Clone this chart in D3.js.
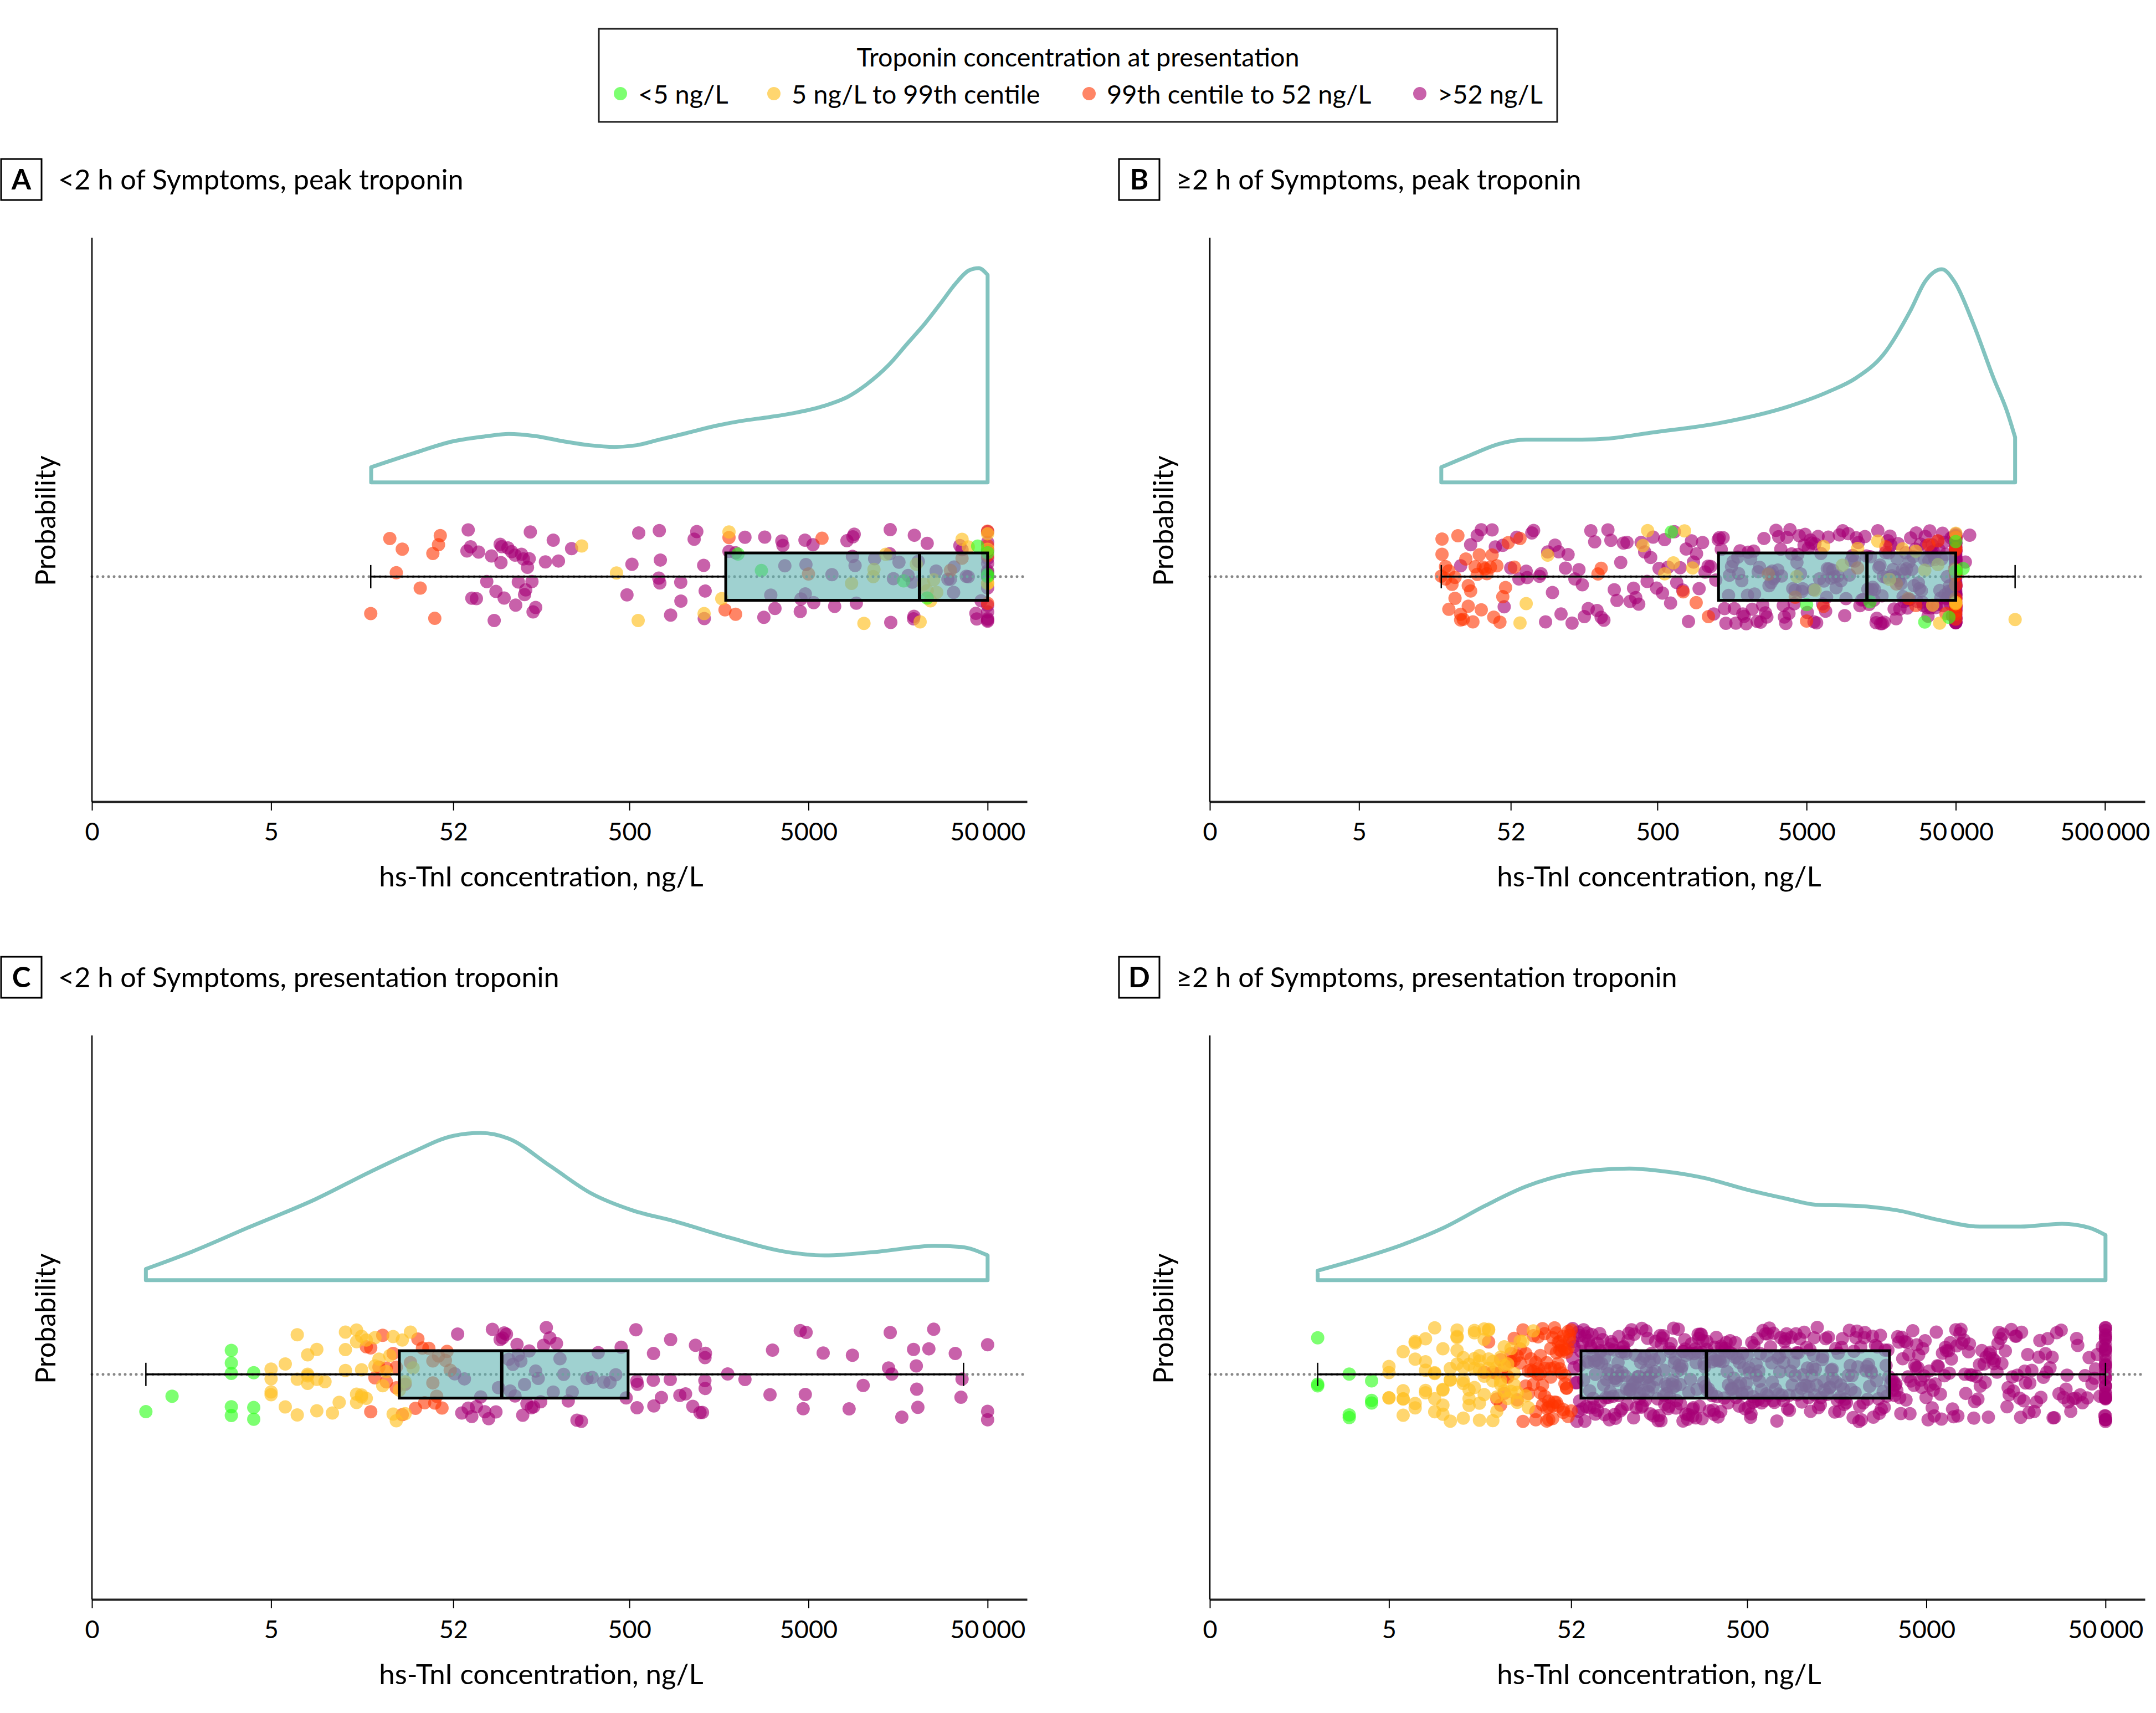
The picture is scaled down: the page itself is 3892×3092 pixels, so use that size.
<!DOCTYPE html>
<html><head><meta charset="utf-8">
<script src="https://cdn.jsdelivr.net/npm/d3@7"></script>
<style>body{margin:0;background:#fff}svg text{font-family:Lato,"Open Sans",sans-serif;fill:#000}</style>
</head><body><svg id="c" width="3892" height="3092"></svg>
<script>
// ---------- categories / legend ----------
const categories=['<5 ng/L','5 ng/L to 99th centile','99th centile to 52 ng/L','>52 ng/L'];
const catColors=['#2dff1a','#ffc125','#ff3300','#a60076'];
const legendTitle='Troponin concentration at presentation';

// ---------- axis ticks ----------
const tickVals5=[0.5,5,52,500,5000,50000];
const tickText5=['0','5','52','500','5000','50\u2009000'];
const tickVals6=[0.5,5,52,500,5000,50000,500000];
const tickText6=['0','5','52','500','5000','50\u2009000','500\u2009000'];

// ---------- box stats [min, q1, median, q3, max] (ng/L) ----------
const boxA=[18,1726,20843,50000,50000];
const boxB=[17.8,1285,12700,50000,125000];
const boxC=[1.0,26,97,492,36700];
const boxD=[2.0,59,296,3111,50000];

// ---------- density curves [ng/L, probability] ----------
const densA=[[18.1,0.027],[30.7,0.051],[52,0.073],[80,0.082],[106,0.086],[150,0.082],[214,0.073],[300,0.066],[412,0.063],[550,0.066],[739,0.076],[1000,0.086],[1500,0.100],[2100,0.109],[3040,0.116],[4300,0.124],[6150,0.136],[8300,0.152],[10470,0.173],[14000,0.208],[17800,0.246],[22500,0.283],[27700,0.320],[33000,0.352],[39400,0.376],[44600,0.380],[50000,0.368]];
const densB=[[17.8,0.027],[28.2,0.049],[43,0.068],[66,0.076],[101,0.076],[155,0.076],[237,0.078],[446,0.088],[1290,0.105],[3720,0.134],[7030,0.161],[10700,0.185],[16400,0.227],[25100,0.307],[31100,0.356],[40400,0.378],[49000,0.356],[65200,0.283],[89600,0.185],[111000,0.124],[125000,0.080]];
const densC=[[1.0,0.020],[1.82,0.051],[3.7,0.093],[8.9,0.144],[18.1,0.193],[30.7,0.227],[52,0.256],[74,0.261],[106,0.251],[180,0.203],[306,0.154],[519,0.124],[882,0.105],[1790,0.076],[3630,0.051],[6150,0.044],[12500,0.051],[25300,0.061],[35600,0.059],[50000,0.044]];
const densD=[[2.0,0.017],[3.5,0.039],[5.95,0.063],[10.1,0.093],[17.2,0.132],[29,0.166],[49.5,0.188],[70.5,0.195],[110,0.198],[171,0.193],[291,0.181],[492,0.161],[841,0.144],[1200,0.134],[2020,0.132],[3440,0.124],[5830,0.107],[9920,0.095],[16800,0.095],[28600,0.100],[40600,0.093],[50000,0.080]];

// ---------- individual patients (ng/L), by presentation category ----------
// counts of patients at the assay cap of 50000 ng/L: [green, yellow, red, purple]
const capA=[3,4,4,16], capB=[2,4,14,90], capC=[0,0,0,3], capD=[0,0,0,35];

const aGreen=[2020,2730,17000,23000,44000];
const aYellow=[271,424,560,1307,1640,1800,8700,10200,11500,11600,13500,20000,21000,22000,23000,24000,25000,26000,36000,39000];
const aRed=[18,23,25,27,34,40,41,43,44,1710,1800,1960,5000,5950,31000,36000];
const aPurple=[62,63,65,66,70,72,80,85,88,90,95,96,97,100,105,110,115,116,120,125,128,130,132,135,138,140,143,145,150,170,188,201,238,485,517,564,730,735,740,745,850,968,970,1150,1190,1300,1310,1325,1800,1960,2210,2818,2850,3080,3250,3550,3600,3690,4500,4540,4780,4800,4840,5300,5350,6760,7000,8200,8800,8850,9000,9100,9250,11700,14200,14300,14400,14900,16000,18000,19000,19300,19400,19500,20500,23000,25800,30000,31000,32300,32500,35000,36000,38000,39000,43000,43500,46000];

const bGreen=[620,5000,13300,31000,45000,56000];
const bYellow=[60,66,92,400,430,560,640,760,860,4300,5700,6500,8700,11000,15000,18000,22000,27000,31000,35000,38000,39000,125000];
const bRed=[17.8,18,18,19,19,20,20,21,22,22,23,24,24,25,26,27,27,28,29,30,31,32,33,34,35,36,38,39,40,42,44,46,48,50,55,60,200,210,745,910,1100,2770,4200,5000,6500,11000,17000,20000,24000,27000,33000,38000,43000,49000];
const bPurple=[24,28,31,33,39,41,46,47,52,57,59,66,67,72,74,81,83,89,92,99,103,109,113,121,126,134,140,149,157,162,172,179,190,197,210,219,233,244,257,268,284,296,313,328,346,358,375,389,411,427,451,468,494,513,541,559,590,613,650,674,710,739,780,808,847,873,915,952,1004,1043,1094,1138,1193,1231,1279,
1300,1340,1380,1410,1440,1500,1520,1570,1610,1640,1680,1730,1750,1790,1840,1870,1910,1970,2010,2030,2110,2160,2210,2240,2330,2370,2420,2460,2540,2590,2650,2710,2800,2840,2890,2940,3010,3060,3120,3210,3250,3360,3400,3490,3550,3630,3690,3810,3870,3970,4040,4130,4190,4310,4370,4460,4550,4660,4710,4810,4890,5060,5140,5310,5410,5560,5610,5690,5840,5970,6110,6240,6410,6540,6710,6810,6890,7010,7090,7310,7490,7710,7890,8110,8290,8510,8740,9010,9190,9510,9690,9960,10190,10510,10790,11110,11390,11710,11990,12310,12590,
12880,13120,13390,13620,13880,14120,14290,14620,14790,15020,15280,15520,15680,16020,16090,16320,16580,16920,17180,17520,17780,18120,18380,18720,18980,19320,19580,19920,20180,20520,20780,21120,21480,21920,22180,22520,22780,23120,23380,23720,23980,24320,24580,24920,25380,25920,26280,26820,27180,27620,28080,28520,28980,29420,29880,30320,30780,31220,31680,32120,32580,33020,33480,33920,34380,34820,35280,35820,36280,36820,37280,37820,38580,39120,39680,40220,40780,41320,41780,42320,42880,43420,43880,44420,44880,45420,45980,46520,46980,47520,47980,48520,58000,62000];

const cGreen=[1.0,1.4,3,3,3,3,3,4,4,4];
const cYellow=[5,5,5,5,6,6,7,7,7,8,8,8,8,9,9,9,10,11,12,13,13,13,15,15,15,15,16,16,16,16,17,17,19,19,20,21,22,23,24,24,25,26,27,28,28,30,31];
const cRed=[17,18,18,19,20,21,22,22,24,25,25,27,28,30,32,33,35,36,38,40,40,41,42,43,45,47,48,50];
const cPurple=[53,55,58,60,63,66,70,74,78,82,86,90,93,95,98,100,103,106,108,112,115,118,120,124,127,130,134,138,142,146,150,155,160,166,172,180,188,196,205,215,228,240,255,270,290,310,335,360,390,420,450,480,544,550,552,555,680,682,685,755,846,850,957,1030,1130,1170,1240,1280,1320,1322,1325,1330,1770,2210,3050,3150,4500,4670,4800,4850,6040,8430,8800,10100,14000,14300,14600,16600,19300,20000,20100,20400,23500,25000,33000,35500,36000];

const dGreen=[2,2,2,3,3,3,4,4,4];
const dYellow=[5,5,5,5,6,6,6,6,6,7,7,7,7,7,8,8,8,8,8,9,9,9,9,9,10,10,10,10,10,11,11,11,11,12,12,12,12,12,13,13,13,13,13,14,14,14,14,15,15,15,15,15,16,16,16,16,16,17,17,17,17,18,18,18,18,19,19,19,20,20,20,21,21,21,22,22,22,23,23,24,24,25,25,26,26,27,28,29,30,32];
const dRed=[17,18,19,20,20,21,21,22,22,23,23,24,24,25,25,26,26,27,27,28,28,29,29,30,30,31,31,32,32,32,33,33,33,34,34,34,35,35,35,36,36,36,37,37,37,38,38,38,39,39,39,40,40,40,41,41,41,42,42,42,43,43,43,44,44,44,45,45,45,46,46,46,47,47,47,48,48,48,49,49,49,50,50,50,51,51,52,52];
const dPurple=[53,53,54,54,55,56,56,57,57,58,58,59,60,60,61,61,62,62,63,64,64,65,65,66,66,67,67,68,69,69,70,70,71,71,53,58,
72,73,73,74,75,76,76,77,78,79,80,80,81,82,83,84,85,85,86,87,88,89,90,91,91,92,93,94,95,96,96,97,98,99,100,100,101,76,84,92,
102,103,105,106,107,108,110,111,112,114,115,116,117,119,120,121,122,124,125,126,128,129,130,131,133,134,135,137,138,139,140,141,142,143,104,113,118,127,132,136,109,
144,146,147,149,151,153,154,156,158,159,161,163,165,166,168,170,172,173,175,177,179,181,183,185,187,188,190,192,194,196,198,200,202,204,150,162,171,184,193,199,
206,209,211,214,216,219,221,224,227,229,232,235,238,241,244,247,250,253,256,259,262,265,268,271,274,277,280,283,286,289,212,225,236,248,258,266,279,287,218,
292,296,299,303,307,311,315,319,323,327,331,336,340,344,349,353,358,362,367,372,376,381,386,391,396,401,406,411,298,318,338,356,374,393,409,329,
415,421,427,433,440,446,452,459,466,472,479,486,493,500,507,515,522,530,537,545,553,561,569,577,585,430,470,510,540,560,450,498,525,580,
592,602,612,622,632,643,653,664,675,686,697,709,720,732,744,757,769,782,795,808,821,830,600,650,700,750,800,640,690,760,815,
840,857,874,891,909,927,945,964,983,1003,1023,1043,1064,1085,1107,1129,1151,1174,880,950,1010,1070,1120,1160,860,935,1040,1100,1180,
1190,1220,1250,1280,1310,1340,1370,1400,1440,1470,1500,1540,1570,1610,1650,1680,1230,1290,1350,1420,1490,1560,1630,1200,1320,1450,1590,1660,
1700,1740,1790,1830,1880,1920,1970,2020,2070,2120,2170,2220,2270,2330,2380,1760,1860,1950,2050,2150,2250,2350,1720,1900,2000,2100,2300,
2410,2470,2530,2600,2660,2730,2800,2870,2940,3010,3090,3160,3240,3320,3380,2500,2640,2770,2910,3050,3200,3350,2450,2700,2980,3270,
3420,3510,3600,3690,3790,3890,3990,4090,4200,4310,4420,4530,4650,4770,3460,3650,3850,4050,4260,4480,4710,3550,3950,4380,
4850,4980,5110,5250,5390,5530,5680,5830,5990,6150,6310,6480,6650,6800,4920,5180,5460,5760,6070,6390,6720,5600,
6900,7100,7300,7500,7700,7900,8100,8300,8600,8800,9000,9300,9500,9700,7000,7400,7800,8200,8700,9200,
9900,10200,10500,10800,11100,11400,11700,12000,12400,12700,13000,13400,13800,10000,10650,11250,11900,12550,13200,
14100,14500,14900,15300,15700,16100,16600,17000,17500,17900,18400,18900,19400,14300,15100,15900,16800,17700,18700,
20000,20600,21200,21800,22500,23100,23800,24500,25200,25900,26700,27500,21500,23500,25500,
28300,29200,30100,31000,32000,33000,34000,35000,36100,37200,38400,39500,30500,34500,
40500,42000,43500,45000,46500,48000,49500,44000];

// ---------- panels ----------
const panelDefs=[
 {letter:'A',title:'<2 h of Symptoms, peak troponin',col:0,row:0,xMax:83000,tv:tickVals5,tt:tickText5,box:boxA,dens:densA,pts:[aGreen,aYellow,aRed,aPurple],cap:capA},
 {letter:'B',title:'\u22652 h of Symptoms, peak troponin',col:1,row:0,xMax:927000,tv:tickVals6,tt:tickText6,box:boxB,dens:densB,pts:[bGreen,bYellow,bRed,bPurple],cap:capB},
 {letter:'C',title:'<2 h of Symptoms, presentation troponin',col:0,row:1,xMax:83000,tv:tickVals5,tt:tickText5,box:boxC,dens:densC,pts:[cGreen,cYellow,cRed,cPurple],cap:capC},
 {letter:'D',title:'\u22652 h of Symptoms, presentation troponin',col:1,row:1,xMax:83000,tv:tickVals5,tt:tickText5,box:boxD,dens:densD,pts:[dGreen,dYellow,dRed,dPurple],cap:capD}
];

// ---------- layout ----------
const xRangeCol=[[166,1854],[2184,3872]];
const yRangeRow=[[1447,429],[2887,1869]];
const BOXC=0.399, DENS0=0.566, JIT=0.0835, BOXH=0.042, CAPH=0.0206;
const PT_R=12, PT_OP=[0.62,0.66,0.6,0.62];
const TEAL='#82c3bf';
const svg=d3.select('#c');

function jit(i,s){const v=Math.sin((i+1)*12.9898+s*78.233)*43758.5453;return (v-Math.floor(v))*2-1;}

panelDefs.forEach((p,pi)=>{
  const [x0,x1]=xRangeCol[p.col], [yb,yt]=yRangeRow[p.row];
  const x=d3.scaleLog().domain([0.5,p.xMax]).range([x0,x1]);
  const y=d3.scaleLinear().domain([0,1]).range([yb,yt]);
  const g=svg.append('g');

  // density (half violin)
  const line=d3.line().x(d=>x(d[0])).y(d=>y(DENS0+d[1])).curve(d3.curveMonotoneX);
  const first=p.dens[0][0], last=p.dens[p.dens.length-1][0];
  g.append('path')
   .attr('d',`M${x(first)},${y(DENS0)}L`+line(p.dens).slice(1)+`L${x(last)},${y(DENS0)}Z`)
   .attr('fill','none').attr('stroke',TEAL).attr('stroke-width',7).attr('stroke-linejoin','round');

  // points
  [3,2,1,0].forEach(c=>{
    const vals=p.pts[c].concat(d3.range(p.cap[c]).map(()=>50000));
    g.append('g').selectAll('circle').data(vals).join('circle')
     .attr('cx',d=>x(d)).attr('cy',(d,i)=>y(BOXC+jit(i,pi*7+c*3+1)*JIT))
     .attr('r',PT_R).attr('fill',catColors[c]).attr('fill-opacity',PT_OP[c]);
  });

  // dotted reference line
  g.append('line').attr('x1',x0).attr('x2',x1).attr('y1',y(BOXC)).attr('y2',y(BOXC))
   .attr('stroke','#888').attr('stroke-width',5).attr('stroke-dasharray','0,10').attr('stroke-linecap','round');

  // box
  const [mn,q1,md,q3,mx]=p.box;
  g.append('rect').attr('x',x(q1)).attr('width',x(q3)-x(q1))
   .attr('y',y(BOXC+BOXH)).attr('height',y(BOXC-BOXH)-y(BOXC+BOXH))
   .attr('fill','#5fb3b0').attr('fill-opacity',0.6).attr('stroke','#000').attr('stroke-width',5);
  g.append('line').attr('x1',x(md)).attr('x2',x(md)).attr('y1',y(BOXC+BOXH)).attr('y2',y(BOXC-BOXH))
   .attr('stroke','#000').attr('stroke-width',6);
  // whiskers
  [[mn,q1],[q3,mx]].forEach(([a,b])=>{
    g.append('line').attr('x1',x(a)).attr('x2',x(b)).attr('y1',y(BOXC)).attr('y2',y(BOXC))
     .attr('stroke','#000').attr('stroke-width',3.5);
  });
  [mn,mx].forEach(v=>{
    g.append('line').attr('x1',x(v)).attr('x2',x(v)).attr('y1',y(BOXC+CAPH)).attr('y2',y(BOXC-CAPH))
     .attr('stroke','#000').attr('stroke-width',2.5);
  });

  // axes
  const ax=g.append('g').attr('transform',`translate(0,${yb})`)
   .call(d3.axisBottom(x).tickValues(p.tv).tickFormat((d,i)=>p.tt[i]).tickSize(16).tickSizeOuter(0).tickPadding(22));
  ax.select('.domain').attr('stroke','#222').attr('stroke-width',4);
  ax.selectAll('.tick line').attr('stroke','#000').attr('stroke-width',2);
  ax.selectAll('.tick text').attr('font-size',45).attr('font-family','Lato,"Open Sans",sans-serif').attr('fill','#000');
  g.append('line').attr('x1',x0).attr('x2',x0).attr('y1',yb).attr('y2',yt).attr('stroke','#000').attr('stroke-width',2.5);

  g.append('text').attr('x',x0+811).attr('y',yb+153).attr('text-anchor','middle').attr('font-size',51)
   .text('hs-TnI concentration, ng/L');
  g.append('text').attr('transform',`translate(${x0-66},${yb-507}) rotate(-90)`).attr('text-anchor','middle')
   .attr('font-size',50).text('Probability');

  // panel title
  g.append('rect').attr('x',x0-164).attr('y',yt-142).attr('width',73).attr('height',74)
   .attr('fill','none').attr('stroke','#000').attr('stroke-width',3);
  g.append('text').attr('x',x0-127.5).attr('y',yt-87).attr('text-anchor','middle').attr('font-size',51)
   .attr('font-weight','bold').text(p.letter);
  g.append('text').attr('x',x0-61).attr('y',yt-87).attr('font-size',50.3).text(p.title);
});

// ---------- legend ----------
const lg=svg.append('g');
lg.append('rect').attr('x',1081).attr('y',52).attr('width',1730).attr('height',168)
  .attr('fill','none').attr('stroke','#222').attr('stroke-width',3);
lg.append('text').attr('x',1946).attr('y',120).attr('text-anchor','middle').attr('font-size',46.7).text(legendTitle);
const legX=[1120,1397,1966,2563];
categories.forEach((c,i)=>{
  lg.append('circle').attr('cx',legX[i]).attr('cy',169).attr('r',12).attr('fill',catColors[i]).attr('fill-opacity',PT_OP[i]);
  lg.append('text').attr('x',legX[i]+32).attr('y',187).attr('font-size',47).text(c);
});
</script></body></html>
